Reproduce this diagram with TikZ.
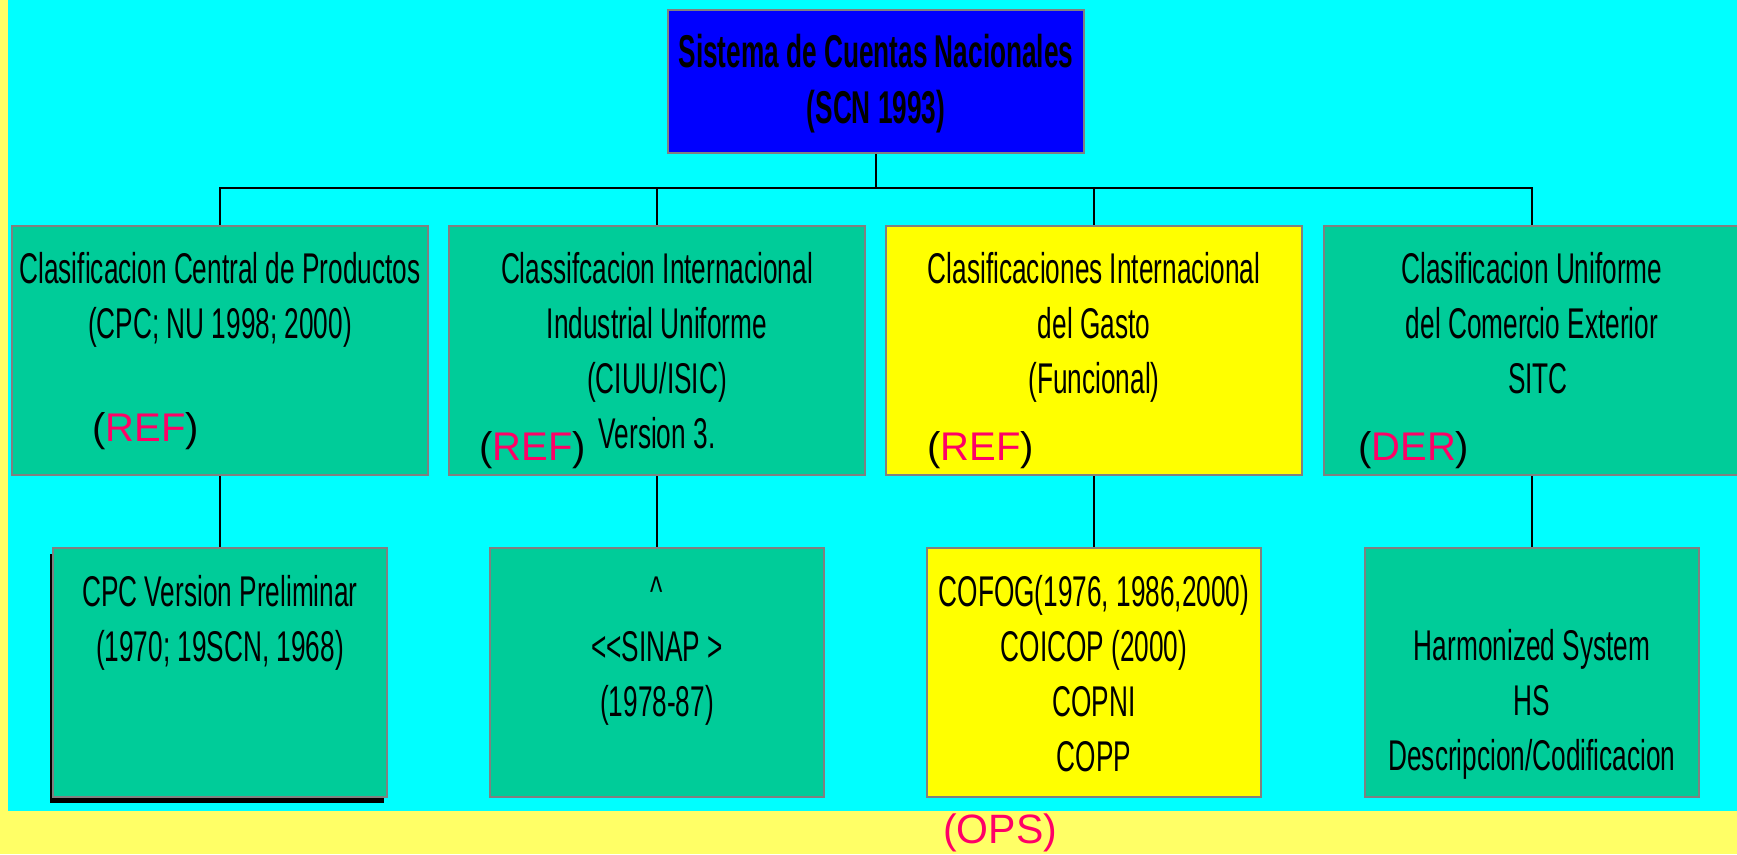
\documentclass[tikz,border=0pt]{standalone}
\usepackage{fontspec}
\newfontfamily\narrowfont{Liberation Sans}[FakeStretch=0.61]
\newfontfamily\titlefont{Liberation Sans}[FakeStretch=0.57]
\newfontfamily\plainfont{Liberation Sans}
\usetikzlibrary{shadows}
\definecolor{bgyellow}{RGB}{255,255,102}
\definecolor{sky}{RGB}{0,255,255}
\definecolor{boxgreen}{RGB}{0,204,153}
\definecolor{boxyellow}{RGB}{255,255,0}
\definecolor{refred}{RGB}{255,0,102}
\definecolor{frame}{RGB}{128,128,128}

\begin{document}
\begin{tikzpicture}[x=1pt,y=-1pt,
 box/.style={draw=frame,line width=2.5pt,fill=boxgreen,inner sep=0pt},
 big/.style={box,minimum width=416,minimum height=249},
 small/.style={box,minimum width=334,minimum height=249},
 txt/.style={anchor=base,text width=470,align=flush center,inner sep=0pt,font=\narrowfont\fontsize{43}{55}\selectfont},
 tag/.style={anchor=base west,inner sep=0pt,font=\plainfont\fontsize{40}{48}\selectfont},
 link/.style={line width=2.2pt}]
 \fill[bgyellow] (0,0) rectangle (1737,854);
 \fill[sky] (8,0) rectangle (1737,811);
 \useasboundingbox (0,0) rectangle (1737,854);
 % top
 \node[box,fill=blue,minimum width=416,minimum height=143] (scn) at (876,81.5) {};
 % second row
 \node[big] (cpc) at (220,350.5) {};
 \node[big] (ciiu) at (657,350.5) {};
 \node[big,fill=boxyellow] (gasto) at (1094,350.5) {};
 \node[big] (sitc) at (1532,350.5) {};
 % third row
 \node[small,general shadow={fill=black,shadow xshift=-3pt,shadow yshift=-6pt}] (cpcprel) at (220,672.5) {};
 \node[small] (sinap) at (657,672.5) {};
 \node[small,fill=boxyellow] (cofog) at (1094,672.5) {};
 \node[small] (hs) at (1532,672.5) {};
 % lines
 \coordinate (bus) at (876,188);
 \draw[link] (scn) -- (bus);
 \foreach \b in {cpc,ciiu,gasto,sitc} \draw[link] (\b) |- (bus);
 \foreach \a/\b in {cpc/cpcprel,ciiu/sinap,gasto/cofog,sitc/hs} \draw[link] (\a) -- (\b);
 % texts
 \node[txt,font=\titlefont\bfseries\fontsize{46}{56}\selectfont] (scn-t) at (876,67) {Sistema de Cuentas Nacionales\\(SCN 1993)};
 \node[txt] (cpc-t) at (220,283) {Clasificacion Central de Productos\\(CPC; NU 1998; 2000)};
 \node[txt] (ciiu-t) at (657,283) {Classifcacion Internacional\\Industrial Uniforme\\(CIUU/ISIC)\\Version 3.};
 \node[txt] (gasto-t) at (1094,283) {Clasificaciones Internacional\\del Gasto\\(Funcional)};
 \node[txt] (sitc-t) at (1532,283) {Clasificacion Uniforme\\del Comercio Exterior\\\hspace*{12pt}SITC};
 \node[txt] (cpcprel-t) at (220,606) {CPC Version Preliminar\\(1970; 19SCN, 1968)};
 \node[txt] (sinap-t) at (657,606) {\textasciicircum\\\textless\textless SINAP \textgreater\\(1978-87)};
 \node[txt] (cofog-t) at (1094,606) {COFOG(1976, 1986,2000)\\COICOP (2000)\\COPNI\\COPP};
 \node[txt] (hs-t) at (1532,660) {Harmonized System\\HS\\Descripcion/Codificacion};
 % tags
 \node[tag] (cpc-ref) at (92,441) {(\textcolor{refred}{REF})};
 \node[tag] (ciiu-ref) at (479,460) {(\textcolor{refred}{REF})};
 \node[tag] (gasto-ref) at (927,460) {(\textcolor{refred}{REF})};
 \node[tag] (sitc-der) at (1358,460) {(\textcolor{refred}{DER})};
 \node[tag,text=refred,font=\plainfont\fontsize{41}{48}\selectfont] (ops) at (943,843) {(OPS)};
\end{tikzpicture}
\end{document}
